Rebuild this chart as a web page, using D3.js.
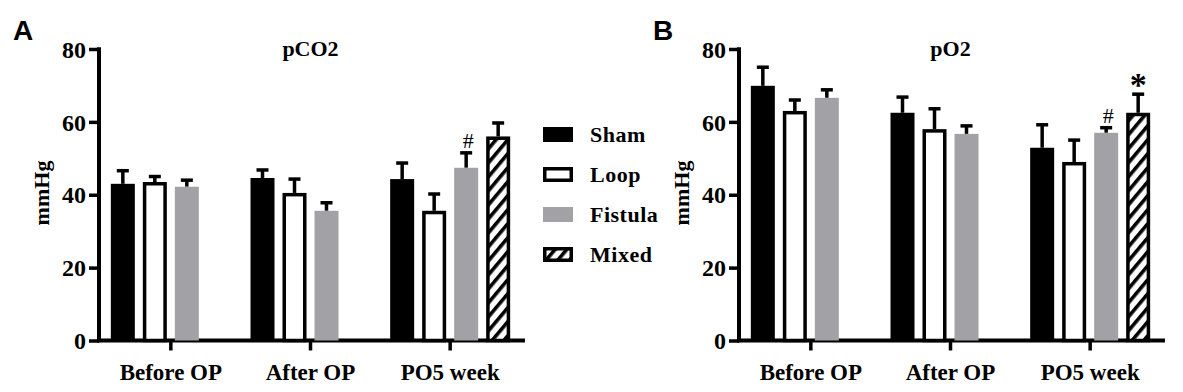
<!DOCTYPE html>
<html>
<head>
<meta charset="utf-8">
<script src="https://cdn.jsdelivr.net/npm/d3@7"></script>
<style>
  body { margin: 0; background: #fff; }
  svg text { font-family: "Liberation Serif", "DejaVu Serif", serif !important; font-weight: bold; fill: #000; }
  svg text.letter { font-family: "Liberation Sans", "DejaVu Sans", sans-serif !important; }
</style>
</head>
<body>
<div id="chart"></div>
<script>
// categories and groups
const groups = ["Before OP", "After OP", "PO5 week"];
const series = ["Sham", "Loop", "Fistula", "Mixed"];
const yTicks = [0, 20, 40, 60, 80];

// pCO2 means and upper error (null = no bar)
const pco2Mean = [[43.0, 43.5, 42.2, null], [44.6, 40.5, 35.6, null], [44.3, 35.6, 47.4, 56.0]];
const pco2Err  = [[3.6, 1.5, 1.8, null], [2.2, 3.8, 2.2, null], [4.4, 4.6, 4.1, 3.7]];
const pco2Marks = [{ g: 2, s: 2, label: "#" }];

// pO2 means and upper error
const po2Mean = [[69.9, 63.0, 66.6, null], [62.5, 58.0, 56.7, null], [52.9, 49.0, 57.0, 62.5]];
const po2Err  = [[5.1, 3.0, 2.2, null], [4.3, 5.6, 2.2, null], [6.3, 6.0, 1.4, 5.1]];
const po2Marks = [{ g: 2, s: 2, label: "#" }, { g: 2, s: 3, label: "*" }];

var width = 1183, height = 392;

let svg = d3.select("#chart").append("svg")
    .attr("width", width)
    .attr("height", height);

// hatch pattern for Mixed
let defs = svg.append("defs");
let pat = defs.append("pattern")
    .attr("id", "hatch")
    .attr("patternUnits", "userSpaceOnUse")
    .attr("width", 9)
    .attr("height", 9)
    .attr("patternTransform", "rotate(40)");
pat.append("rect").attr("width", 9).attr("height", 9).attr("fill", "#fff");
pat.append("rect").attr("width", 3.6).attr("height", 9).attr("fill", "#000");

const fills = { "Sham": "#000", "Loop": "#fff", "Fistula": "#a2a2a6", "Mixed": "url(#hatch)" };
const outlined = { "Sham": false, "Loop": true, "Fistula": false, "Mixed": true };

function drawPanel(offsetX, letter, title, means, errs, marks) {
    let g = svg.append("g").attr("transform", "translate(" + offsetX + ",0)");

    let yScale = d3.scaleLinear().domain([0, 80]).range([340.5, 49]);
    let xScale = d3.scaleBand().domain(groups).range([101, 520]);
    let inner = d3.scaleBand().domain(series).range([-60, 60]).paddingInner(0.25);

    // y axis
    let yAxis = g.append("g")
        .attr("transform", "translate(99,0)")
        .call(d3.axisLeft(yScale).tickValues(yTicks).tickSize(10).tickPadding(3));
    yAxis.select(".domain").remove();
    yAxis.selectAll(".tick line").attr("stroke", "#000").attr("stroke-width", 3.5);
    yAxis.selectAll(".tick text")
        .style("font-size", "24px")
        .attr("dy", "0.34em");
    g.append("line")
        .attr("x1", 99).attr("x2", 99)
        .attr("y1", yScale(80) - 1.75).attr("y2", yScale(0) + 1.75)
        .attr("stroke", "#000").attr("stroke-width", 4);

    // x axis
    let xAxis = g.append("g")
        .attr("transform", "translate(0," + yScale(0) + ")")
        .call(d3.axisBottom(xScale).tickSize(10).tickPadding(8));
    xAxis.select(".domain").remove();
    xAxis.selectAll(".tick line").attr("stroke", "#000").attr("stroke-width", 3.5);
    xAxis.selectAll(".tick text")
        .style("font-size", "23px")
        .attr("dy", "0.95em");
    g.append("line")
        .attr("x1", 97).attr("x2", 525)
        .attr("y1", yScale(0)).attr("y2", yScale(0))
        .attr("stroke", "#000").attr("stroke-width", 4);

    // flatten bars
    let bars = [];
    groups.forEach(function(grp, gi) {
        series.forEach(function(s, si) {
            if (means[gi][si] != null) {
                bars.push({ group: grp, series: s, value: means[gi][si], err: errs[gi][si] });
            }
        });
    });

    let barG = g.append("g");
    // error bars first (behind)
    bars.forEach(function(d) {
        let cx = xScale(d.group) + xScale.bandwidth() / 2 + inner(d.series) + inner.bandwidth() / 2;
        barG.append("line")
            .attr("x1", cx).attr("x2", cx)
            .attr("y1", yScale(d.value)).attr("y2", yScale(d.value + d.err))
            .attr("stroke", "#000").attr("stroke-width", 3.5);
        barG.append("line")
            .attr("x1", cx - 6).attr("x2", cx + 6)
            .attr("y1", yScale(d.value + d.err)).attr("y2", yScale(d.value + d.err))
            .attr("stroke", "#000").attr("stroke-width", 3.5);
    });

    barG.selectAll("rect.bar")
        .data(bars)
        .enter()
        .append("rect")
        .attr("class", "bar")
        .attr("x", d => xScale(d.group) + xScale.bandwidth() / 2 + inner(d.series) + (outlined[d.series] ? 1.75 : 0))
        .attr("y", d => yScale(d.value) + (outlined[d.series] ? 1.75 : 0))
        .attr("width", d => inner.bandwidth() - (outlined[d.series] ? 3.5 : 0))
        .attr("height", d => yScale(0) - yScale(d.value) - (outlined[d.series] ? 1.75 : 0))
        .attr("fill", d => fills[d.series])
        .attr("stroke", d => outlined[d.series] ? "#000" : "none")
        .attr("stroke-width", 3.5);

    // significance marks
    marks.forEach(function(m) {
        let v = means[m.g][m.s] + errs[m.g][m.s];
        let cx = xScale(groups[m.g]) + xScale.bandwidth() / 2 + inner(series[m.s]) + inner.bandwidth() / 2;
        g.append("text")
            .attr("x", cx + (m.label === "#" ? 2 : 0))
            .attr("y", yScale(v) + (m.label === "*" ? 2 : -5))
            .attr("text-anchor", "middle")
            .style("font-size", m.label === "*" ? "34px" : "22px")
            .style("font-weight", m.label === "*" ? "bold" : "normal")
            .text(m.label);
    });

    // title
    g.append("text")
        .attr("x", xScale(groups[1]) + xScale.bandwidth() / 2)
        .attr("y", 56)
        .attr("text-anchor", "middle")
        .style("font-size", "22px")
        .text(title);

    // y label
    g.append("text")
        .attr("transform", "translate(49,193) rotate(-90)")
        .attr("text-anchor", "middle")
        .style("font-size", "22px")
        .text("mmHg");

    // panel letter
    g.append("text")
        .attr("class", "letter")
        .attr("x", 13)
        .attr("y", 40)
        .style("font-size", "28px")
        .text(letter);
}

drawPanel(0, "A", "pCO2", pco2Mean, pco2Err, pco2Marks);
drawPanel(640, "B", "pO2", po2Mean, po2Err, po2Marks);

// legend
let legend = svg.append("g").attr("transform", "translate(543,127)");
legend.selectAll(".item")
    .data(series)
    .enter()
    .append("g")
    .attr("transform", (d, i) => "translate(0," + i * 40 + ")")
    .each(function(d) {
        let item = d3.select(this);
        let o = outlined[d] ? 1.75 : 0;
        item.append("rect")
            .attr("x", o).attr("y", o)
            .attr("width", 30 - 2 * o).attr("height", 15 - 2 * o)
            .attr("fill", fills[d])
            .attr("stroke", outlined[d] ? "#000" : "none")
            .attr("stroke-width", 3.5);
        item.append("text")
            .attr("x", 47)
            .attr("y", 15)
            .style("font-size", "22px")
            .style("letter-spacing", "0.5px")
            .text(d);
    });
</script>
</body>
</html>
